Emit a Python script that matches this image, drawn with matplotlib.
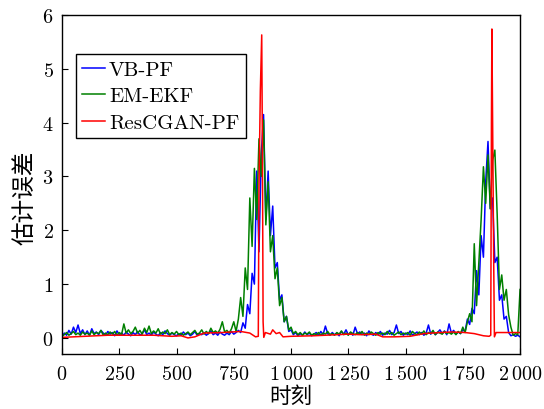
import numpy as np
import matplotlib
matplotlib.use('Agg')
import matplotlib.pyplot as plt
from matplotlib.ticker import FuncFormatter

plt.rcParams['font.family'] = ['cmr10', 'Noto Sans CJK SC']
plt.rcParams['mathtext.fontset'] = 'cm'
plt.rcParams['axes.unicode_minus'] = False
plt.rcParams['axes.formatter.use_mathtext'] = True

# time steps 0..2000, sampled every 10
t = np.arange(0, 2001, 10)

vb_pf = [
    0.02, 0.09, 0.05, 0.14, 0.07, 0.20, 0.10, 0.24, 0.08, 0.15,
    0.06, 0.13, 0.05, 0.17, 0.08, 0.11, 0.06, 0.14, 0.09, 0.05,
    0.12, 0.07, 0.10, 0.04, 0.13, 0.06, 0.09, 0.05, 0.11, 0.07,
    0.04, 0.10, 0.06, 0.12, 0.05, 0.08, 0.15, 0.06, 0.09, 0.05,
    0.11, 0.07, 0.04, 0.10, 0.06, 0.13, 0.08, 0.05, 0.09, 0.06,
    0.04, 0.08, 0.05, 0.11, 0.06, 0.09, 0.04, 0.07, 0.12, 0.05,
    0.08, 0.06, 0.10, 0.05, 0.08, 0.13, 0.06, 0.09, 0.05, 0.11,
    0.07, 0.05, 0.09, 0.06, 0.12, 0.07, 0.10, 0.14, 0.10, 0.28,
    0.18, 0.62, 0.45, 1.20, 1.00, 3.10, 1.60, 3.40, 4.15, 2.20,
    3.10, 1.90, 2.45, 1.30, 1.40, 0.70, 0.80, 0.30, 0.40, 0.12,
    0.15, 0.06, 0.10, 0.04, 0.08, 0.05, 0.11, 0.06, 0.09, 0.04,
    0.07, 0.10, 0.05, 0.12, 0.06, 0.22, 0.08, 0.05, 0.10, 0.06,
    0.09, 0.04, 0.12, 0.07, 0.15, 0.06, 0.10, 0.05, 0.20, 0.08,
    0.11, 0.06, 0.09, 0.04, 0.13, 0.07, 0.05, 0.10, 0.06, 0.12,
    0.05, 0.09, 0.07, 0.14, 0.06, 0.10, 0.24, 0.08, 0.12, 0.05,
    0.09, 0.06, 0.13, 0.05, 0.08, 0.11, 0.06, 0.10, 0.05, 0.09,
    0.24, 0.07, 0.12, 0.06, 0.10, 0.15, 0.08, 0.13, 0.06, 0.26,
    0.09, 0.14, 0.07, 0.11, 0.08, 0.15, 0.12, 0.35, 0.25, 0.55,
    0.45, 1.25, 0.80, 1.90, 1.50, 2.90, 3.65, 2.40, 2.60, 1.40,
    1.50, 0.70, 0.80, 0.35, 0.40, 0.10, 0.04, 0.06, 0.03, 0.05,
    0.02,
]

em_ekf = [
    0.04, 0.06, 0.10, 0.05, 0.08, 0.12, 0.06, 0.09, 0.05, 0.11,
    0.07, 0.09, 0.05, 0.13, 0.06, 0.10, 0.08, 0.14, 0.05, 0.09,
    0.06, 0.11, 0.07, 0.12, 0.05, 0.10, 0.06, 0.26, 0.09, 0.15,
    0.08, 0.12, 0.20, 0.09, 0.14, 0.07, 0.18, 0.10, 0.22, 0.08,
    0.13, 0.09, 0.17, 0.07, 0.11, 0.08, 0.15, 0.06, 0.10, 0.07,
    0.12, 0.06, 0.09, 0.05, 0.08, 0.11, 0.06, 0.10, 0.14, 0.07,
    0.09, 0.15, 0.07, 0.12, 0.08, 0.18, 0.10, 0.13, 0.09, 0.16,
    0.30, 0.11, 0.14, 0.09, 0.17, 0.30, 0.12, 0.35, 0.75, 0.40,
    1.30, 0.90, 2.60, 1.70, 3.15, 2.20, 3.70, 3.00, 4.05, 2.10,
    2.90, 1.60, 1.90, 1.10, 1.30, 0.60, 0.75, 0.30, 0.40, 0.15,
    0.20, 0.08, 0.12, 0.06, 0.10, 0.05, 0.09, 0.07, 0.11, 0.05,
    0.08, 0.06, 0.10, 0.05, 0.09, 0.07, 0.12, 0.06, 0.08, 0.05,
    0.10, 0.07, 0.13, 0.06, 0.09, 0.05, 0.11, 0.08, 0.06, 0.10,
    0.07, 0.12, 0.05, 0.09, 0.06, 0.11, 0.08, 0.05, 0.10, 0.07,
    0.09, 0.06, 0.12, 0.07, 0.10, 0.05, 0.08, 0.11, 0.06, 0.09,
    0.07, 0.10, 0.05, 0.12, 0.08, 0.06, 0.11, 0.07, 0.13, 0.06,
    0.10, 0.08, 0.14, 0.06, 0.11, 0.09, 0.07, 0.12, 0.08, 0.10,
    0.07, 0.11, 0.06, 0.12, 0.08, 0.20, 0.10, 0.30, 0.45, 0.30,
    1.75, 0.60, 1.40, 2.20, 3.18, 2.50, 3.40, 2.40, 3.30, 3.49,
    2.30, 0.90, 1.17, 0.70, 0.90, 0.43, 0.20, 0.05, 0.08, 0.06,
    0.90,
]

# ResCGAN-PF is smooth, so it is kept at its own (uneven) time points
t_gan = [0, 100, 200, 300, 400, 480, 520, 550, 580, 620, 700, 780, 820,
         845, 857, 860, 866, 872, 875, 878, 881, 888, 910, 920, 935, 950,
         965, 1000, 1100, 1200, 1250, 1300, 1370, 1400, 1450, 1520, 1580,
         1650, 1700, 1760, 1800, 1840, 1865, 1872, 1875, 1877, 1882, 1885,
         1888, 1895, 1950, 2000]
res_cgan_pf = [0.01, 0.03, 0.05, 0.05, 0.05, 0.03, 0.04, 0.00, 0.02, 0.09,
               0.10, 0.12, 0.09, 0.02, 0.03, 2.80, 4.60, 5.63, 3.50, 0.30,
               0.01, 0.10, 0.07, 0.15, 0.08, 0.10, 0.02, 0.03, 0.04, 0.06,
               0.07, 0.06, 0.07, 0.02, 0.02, 0.03, 0.08, 0.10, 0.11, 0.10,
               0.08, 0.04, 0.03, 0.05, 4.00, 5.74, 3.00, 1.36, 0.02, 0.10,
               0.10, 0.10]

x_ticks = [0, 250, 500, 750, 1000, 1250, 1500, 1750, 2000]
y_ticks = [0, 1, 2, 3, 4, 5, 6]

fig = plt.figure(figsize=(5.44, 4.10), dpi=100)
ax = fig.add_axes([0.114, 0.134, 0.842, 0.827])

ax.plot(t, vb_pf, color='#0000ff', lw=1.1, label='VB-PF')
ax.plot(t, em_ekf, color='#008000', lw=1.1, label='EM-EKF')
ax.plot(t_gan, res_cgan_pf, color='#ff0000', lw=1.1, label='ResCGAN-PF')

ax.set_xlim(0, 2000)
ax.set_ylim(-0.3, 6)
ax.set_xticks(x_ticks)
ax.set_yticks(y_ticks)
ax.xaxis.set_major_formatter(FuncFormatter(
    lambda v, p: '$' + f'{int(v):,}'.replace(',', r'\,') + '$'))
ax.yaxis.set_major_formatter(FuncFormatter(lambda v, p: '$%d$' % v))
ax.tick_params(direction='in', length=4, width=0.8, labelsize=14.5,
               top=False, right=False)
ax.tick_params(axis='x', pad=8)
ax.tick_params(axis='y', pad=6)
for s in ax.spines.values():
    s.set_linewidth(1.0)

ax.set_xlabel('时刻', family='Noto Sans CJK SC', fontsize=15.5, labelpad=1)
ax.set_ylabel('估计误差', family='Noto Sans CJK SC', fontsize=17,
              fontweight='light')
ax.yaxis.set_label_coords(-0.055, 0.465)

leg = ax.legend(loc='upper left', bbox_to_anchor=(0.03, 0.885), fontsize=15,
                handlelength=1.1, handletextpad=0.2, borderpad=0.3,
                labelspacing=0.38, fancybox=False, framealpha=1,
                edgecolor='black', borderaxespad=0)
leg.get_frame().set_linewidth(1.0)

fig.savefig('out.png', dpi=100)
